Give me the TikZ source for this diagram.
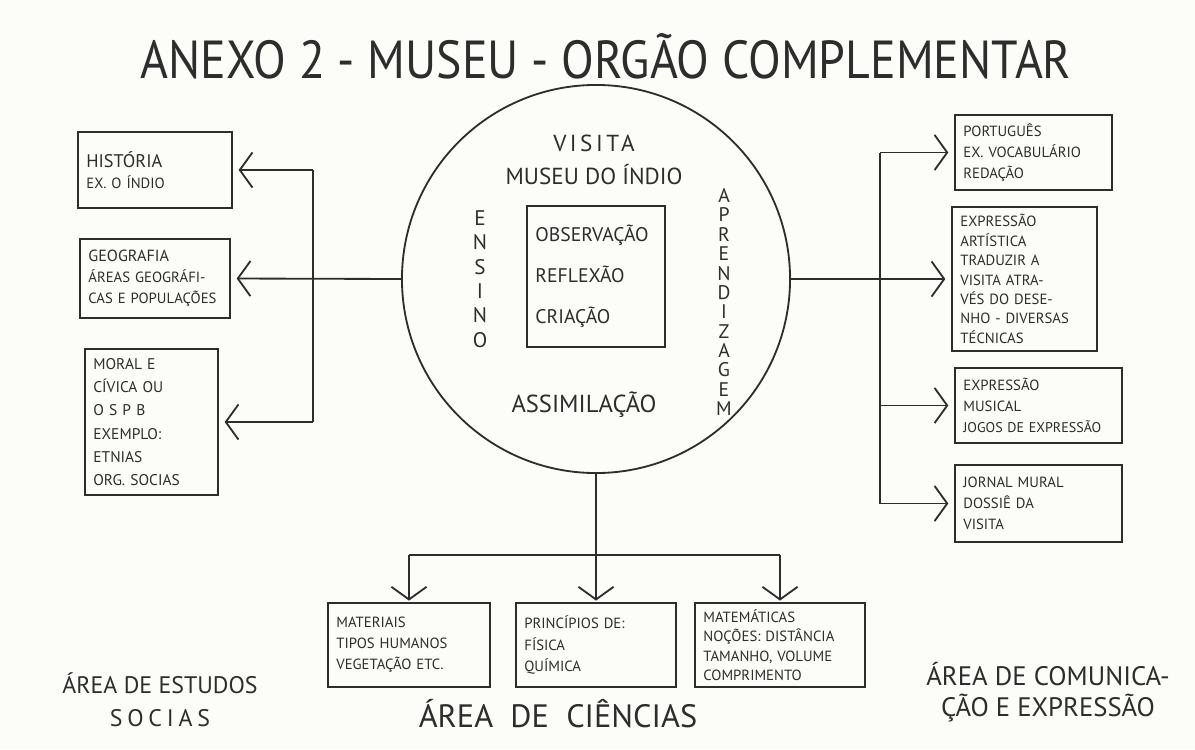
\documentclass[tikz,border=0pt]{standalone}
\usepackage{fontspec}
\setmainfont{PT Sans}
\usepackage{graphicx}
\usetikzlibrary{arrows.meta, positioning, calc}
\definecolor{pencil}{RGB}{45, 45, 45}
\definecolor{paper}{RGB}{252, 252, 248}
\tikzset{
  caixa/.style={draw=pencil, line width=1.4pt, text=pencil, align=left,
    inner xsep=6pt, inner ysep=3pt, font=\fontsize{10.5}{15}\selectfont},
  seta/.style={draw=pencil, line width=1.3pt,
    -{Straight Barb[length=9pt, width=25pt, line width=1.3pt]}, shorten >=4pt},
  liga/.style={draw=pencil, line width=1.3pt},
  rotulo/.style={text=pencil, align=center}
}

\begin{document}
\begin{tikzpicture}[x=0.025cm, y=-0.025cm]
  \fill[paper] (0, 0) rectangle (1195, 749);
  \useasboundingbox (0, 0) rectangle (1195, 749);

  % Title
  \node[rotulo, font=\fontsize{34}{40}\selectfont] (titulo) at (606, 56)
    {\scalebox{1}[1.12]{ANEXO 2 - MUSEU - ORGÃO COMPLEMENTAR}};

  % Central visit
  \node[circle, draw=pencil, line width=1.3pt, minimum size=9.7cm] (museu) at (596, 279) {};
  \node[rotulo, font=\fontsize{16.5}{23}\selectfont] (visita) at (594, 160)
    {{\addfontfeature{LetterSpace=15.0}VISITA}\\MUSEU DO ÍNDIO};
  \node[caixa, font=\fontsize{14}{29}\selectfont, text width=3.03cm, minimum height=3.525cm]
    (nucleo) at (596, 276.5) {OBSERVAÇÃO\\REFLEXÃO\\CRIAÇÃO};
  \node[rotulo, font=\fontsize{15}{17.4}\selectfont] (ensino) at (480, 279)
    {E\\N\\S\\I\\N\\O};
  \node[rotulo, font=\fontsize{14}{13.75}\selectfont] (aprend) at (724, 302)
    {A\\P\\R\\E\\N\\D\\I\\Z\\A\\G\\E\\M};
  \node[rotulo, font=\fontsize{17.5}{22}\selectfont] (assim) at (584, 405) {ASSIMILAÇÃO};

  % Estudos sociais
  \node[caixa, text width=3.43cm, minimum height=1.9cm] (hist) at (155, 170)
    {{\fontsize{13}{15}\selectfont HISTÓRIA}\\EX. O ÍNDIO};
  \node[caixa, text width=3.33cm, minimum height=1.975cm] (geo) at (155, 278.5)
    {{\fontsize{11.5}{15}\selectfont GEOGRAFIA}\\ÁREAS GEOGRÁFI-\\CAS E POPULAÇÕES};
  \node[caixa, text width=2.905cm, minimum height=3.65cm, font=\fontsize{11}{16.5}\selectfont]
    (moral) at (151.5, 422)
    {MORAL E\\CÍVICA OU\\O S P B\\EXEMPLO:\\ETNIAS\\ORG. SOCIAS};
  \coordinate (jL) at (313, 278.5);
  \draw[seta] (museu.west) -- (geo.east);
  \draw[liga] (hist.east -| jL) -- (moral.east -| jL);
  \draw[seta] (hist.east -| jL) -- (hist.east);
  \draw[seta] (moral.east -| jL) -- (moral.east);

  % Comunicacao e expressao
  \node[caixa, text width=3.505cm, minimum height=1.875cm] (port) at (1033.5, 152.5)
    {PORTUGUÊS\\EX. VOCABULÁRIO\\REDAÇÃO};
  \node[caixa, text width=3.205cm, minimum height=3.6cm, font=\fontsize{10.5}{13.8}\selectfont]
    (expart) at (1024.5, 279)
    {EXPRESSÃO\\ARTÍSTICA\\TRADUZIR A\\VISITA ATRA-\\VÉS DO DESE-\\NHO - DIVERSAS\\TÉCNICAS};
  \node[caixa, text width=3.755cm, minimum height=1.875cm, font=\fontsize{10}{15}\selectfont]
    (musica) at (1038.5, 405.5)
    {{\fontsize{10.5}{15}\selectfont EXPRESSÃO\\MUSICAL}\\JOGOS DE EXPRESSÃO};
  \node[caixa, text width=3.755cm, minimum height=1.925cm] (jornal) at (1038.5, 503.5)
    {JORNAL MURAL\\DOSSIÊ DA\\VISITA};
  \coordinate (jR) at (880, 279);
  \draw[seta] (museu.east) -- (expart.west);
  \draw[liga] (port.west -| jR) -- (jornal.west -| jR);
  \draw[seta] (port.west -| jR) -- (port.west);
  \draw[seta] (musica.west -| jR) -- (musica.west);
  \draw[seta] (jornal.west -| jR) -- (jornal.west);

  % Ciencias
  \node[caixa, text width=3.63cm, minimum height=2.1cm] (mat) at (409, 645)
    {MATERIAIS\\TIPOS HUMANOS\\VEGETAÇÃO ETC.};
  \node[caixa, text width=3.58cm, minimum height=2.1cm] (fis) at (596, 645)
    {PRINCÍPIOS DE:\\FÍSICA\\QUÍMICA};
  \node[caixa, text width=3.83cm, minimum height=2.1cm, font=\fontsize{10.5}{13.8}\selectfont]
    (matem) at (780, 645)
    {MATEMÁTICAS\\NOÇÕES: DISTÂNCIA\\TAMANHO, VOLUME\\COMPRIMENTO};
  \coordinate (jB) at (596, 555);
  \draw[liga] (museu.south) -- (jB);
  \draw[liga] (mat.north |- jB) -- (matem.north |- jB);
  \draw[seta, shorten >=1pt] (mat.north |- jB) -- (mat.north);
  \draw[seta, shorten >=1pt] (jB) -- (fis.north);
  \draw[seta, shorten >=1pt] (matem.north |- jB) -- (matem.north);

  % Areas
  \node[rotulo, font=\fontsize{17}{23.4}\selectfont] (estudos) at (160, 700)
    {ÁREA DE ESTUDOS\\{\addfontfeature{LetterSpace=20.0}SOCIAS}};
  \node[rotulo, font=\fontsize{23}{26}\selectfont] (ciencias) at (558, 714)
    {ÁREA\ \ DE\ \ CIÊNCIAS};
  \node[rotulo, font=\fontsize{19}{22}\selectfont] (comunic) at (1048, 692)
    {ÁREA DE COMUNICA-\\ÇÃO E EXPRESSÃO};
\end{tikzpicture}
\end{document}
